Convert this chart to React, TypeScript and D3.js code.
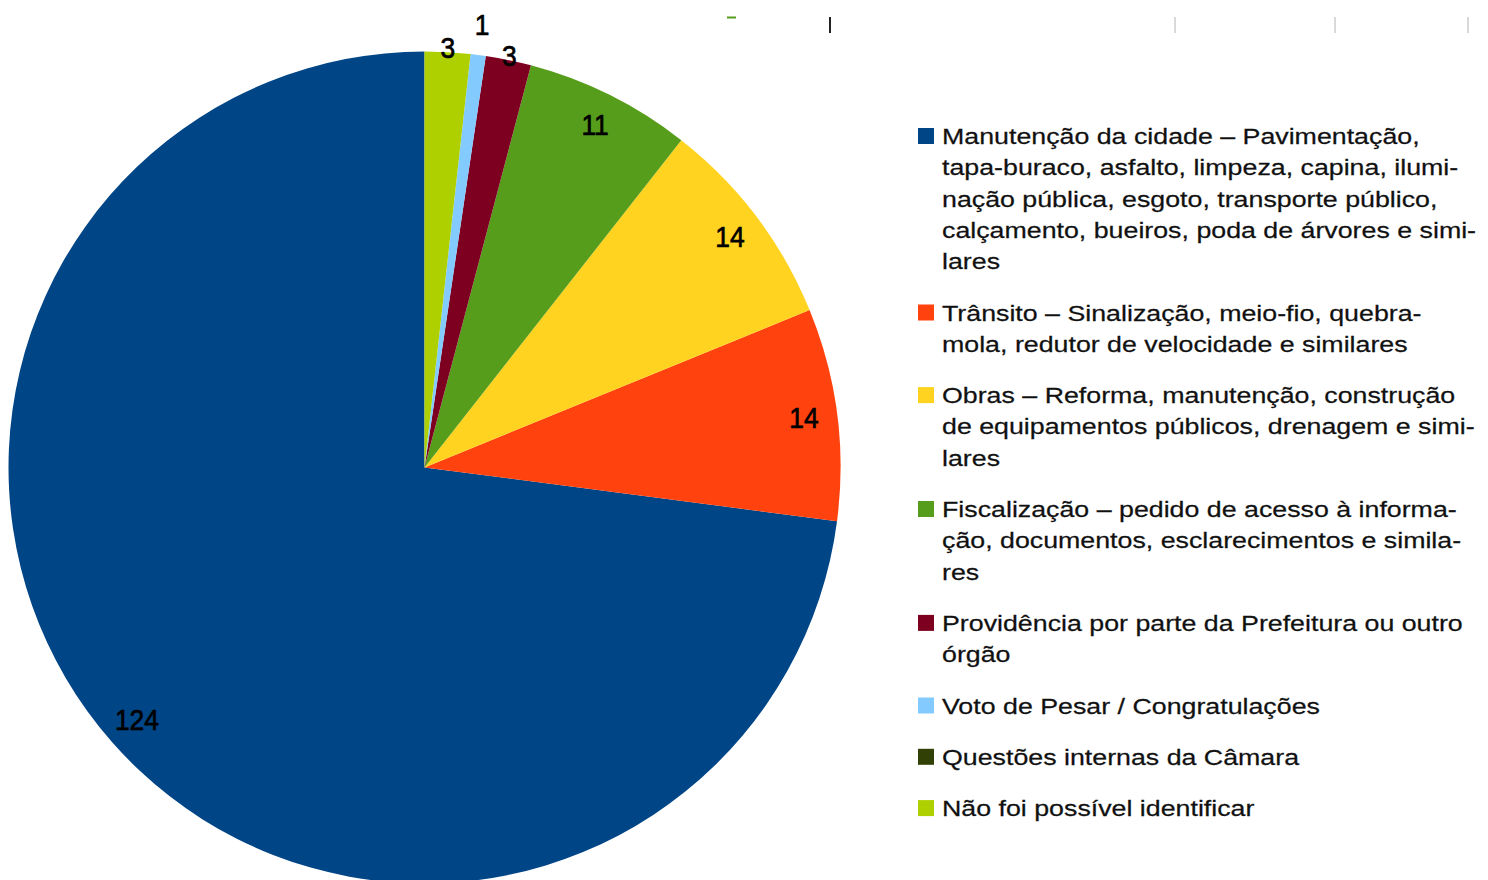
import React from "react";
import * as d3 from "d3";

// categories in legend order
const categories = [
  "Manutenção da cidade",
  "Trânsito",
  "Obras",
  "Fiscalização",
  "Providência",
  "Voto de Pesar",
  "Questões internas",
  "Não foi possível identificar",
];
const values = [124, 14, 14, 11, 3, 1, 0, 3];
const colors = ["#004586", "#ff420e", "#ffd320", "#579d1c", "#7e0021", "#83caff", "#314004", "#aecf00"];

// legend text, broken and hyphenated as in the original
const legendLines = [
  [
    "Manutenção da cidade – Pavimentação,",
    "tapa-buraco, asfalto, limpeza, capina, ilumi-",
    "nação pública, esgoto, transporte público,",
    "calçamento, bueiros, poda de árvores e simi-",
    "lares",
  ],
  ["Trânsito – Sinalização, meio-fio, quebra-", "mola, redutor de velocidade e similares"],
  ["Obras – Reforma, manutenção, construção", "de equipamentos públicos, drenagem e simi-", "lares"],
  ["Fiscalização – pedido de acesso à informa-", "ção, documentos, esclarecimentos e simila-", "res"],
  ["Providência por parte da Prefeitura ou outro", "órgão"],
  ["Voto de Pesar / Congratulações"],
  ["Questões internas da Câmara"],
  ["Não foi possível identificar"],
];

const W = 1488;
const H = 880;
const cx = 424.5;
const cy = 467.5;
const R = 416;

export default function App() {
  const pie = d3
    .pie<number>()
    .sort(null)
    .value((d) => d)
    .startAngle(0)
    .endAngle(-2 * Math.PI);
  const slices = pie(values);
  const arc = d3.arc<d3.PieArcDatum<number>>().innerRadius(0).outerRadius(R);

  // label radius: inside for big slices, just outside for thin ones
  const labelPos = (s: d3.PieArcDatum<number>) => {
    const span = Math.abs(s.endAngle - s.startAngle);
    let r = R * 0.92;
    if (span < 0.06) r = R + 30;
    else if (span < 0.15) r = R + 4;
    const a = (s.startAngle + s.endAngle) / 2;
    return [Math.sin(a) * r, -Math.cos(a) * r];
  };

  // legend layout
  const lineH = 31.3;
  const gap = 20;
  let base = 144;
  const legendRows = legendLines.map((lines, i) => {
    const row = { i, lines, base };
    base += lines.length * lineH + gap;
    return row;
  });

  return (
    <svg width={W} height={H} style={{ position: "absolute", left: 0, top: 0, background: "#fff" }}>
      <g transform={`translate(${cx},${cy})`}>
        {slices.map((s, i) => (
          <path key={i} d={arc(s) || ""} fill={colors[i]} />
        ))}
        {slices
          .filter((s) => s.value > 0)
          .map((s, i) => {
            const [x, y] = labelPos(s);
            return (
              <text
                key={i}
                transform={`translate(${x},${y}) scale(0.88,1)`}
                textAnchor="middle"
                dy="0.34em"
                fontFamily="Liberation Sans, Arial, sans-serif"
                fontSize={30}
                fill="#000"
                stroke="#000"
                strokeWidth={0.7}
              >
                {s.value}
              </text>
            );
          })}
      </g>

      {/* stray ticks cut off at the top edge */}
      <line x1={727} x2={736} y1={17.5} y2={17.5} stroke="#579d1c" strokeWidth={2} />
      <line x1={830} x2={830} y1={17} y2={33} stroke="#222" strokeWidth={2} />
      {[1175, 1335, 1468].map((x) => (
        <line key={x} x1={x} x2={x} y1={17} y2={33} stroke="#ccc" strokeWidth={1.5} />
      ))}

      <g fontFamily="Liberation Sans, Arial, sans-serif" fontSize={22.5} fill="#111" stroke="#111" strokeWidth={0.25}>
        {legendRows.map((row) => (
          <g key={row.i}>
            <rect x={918} y={row.base - 16} width={16} height={16} fill={colors[row.i]} stroke="none" />
            {row.lines.map((t, j) => (
              <text key={j} transform={`translate(942,${row.base + j * lineH}) scale(1.19,1)`}>
                {t}
              </text>
            ))}
          </g>
        ))}
      </g>
    </svg>
  );
}
